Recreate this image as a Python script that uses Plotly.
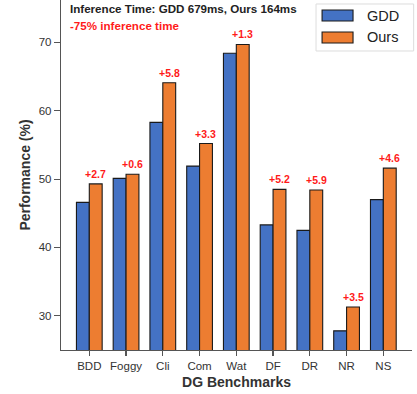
import plotly.graph_objects as go

categories = ["BDD", "Foggy", "Cli", "Com", "Wat", "DF", "DR", "NR", "NS"]
gdd = [46.6, 50.1, 58.3, 51.9, 68.4, 43.3, 42.5, 27.8, 47.0]
ours = [49.3, 50.7, 64.1, 55.2, 69.7, 48.5, 48.4, 31.3, 51.6]
deltas = ["+2.7", "+0.6", "+5.8", "+3.3", "+1.3", "+5.2", "+5.9", "+3.5", "+4.6"]
yticks = [30, 40, 50, 60, 70]
series_names = ["GDD", "Ours"]
colors = ["#4472C4", "#ED7D31"]

FONT = "Liberation Sans, Arial, sans-serif"
W = 0.35
idx = list(range(len(categories)))

fig = go.Figure()
fig.add_trace(go.Bar(x=[i - W / 2 for i in idx], y=gdd, width=W, name=series_names[0],
                     marker=dict(color=colors[0], line=dict(color="#1a1a1a", width=1.1)),
                     showlegend=False))
fig.add_trace(go.Bar(x=[i + W / 2 for i in idx], y=ours, width=W, name=series_names[1],
                     marker=dict(color=colors[1], line=dict(color="#1a1a1a", width=1.1)),
                     showlegend=False))

annotations = []
for i, (v, d) in enumerate(zip(ours, deltas)):
    annotations.append(dict(x=i + W / 2, y=v, text=f"<b>{d}</b>", showarrow=False,
                            yanchor="bottom", yshift=2,
                            font=dict(family=FONT, size=10.5, color="#ff1a1a")))

annotations.append(dict(xref="paper", yref="paper", x=0.0199, y=0.976, xanchor="left", yanchor="middle",
                        text="<b>Inference Time: GDD 679ms, Ours 164ms</b>", showarrow=False,
                        font=dict(family=FONT, size=11.6, color="#222222")))
annotations.append(dict(xref="paper", yref="paper", x=0.0199, y=0.9266, xanchor="left", yanchor="middle",
                        text="<b>-75% inference time</b>", showarrow=False,
                        font=dict(family=FONT, size=11.6, color="#ff1a1a")))

# legend drawn as shapes
shapes = [dict(type="rect", xref="paper", yref="paper", x0=0.7266, x1=1.0047, y0=0.8543, y1=0.9886,
               line=dict(color="#dddddd", width=1), fillcolor="rgba(255,255,255,0.85)", layer="above")]
leg_y = [(0.94, 0.9714, 0.9557), (0.877, 0.9086, 0.8929)]
for (y0, y1, yc), name, col in zip(leg_y, series_names, colors):
    shapes.append(dict(type="rect", xref="paper", yref="paper", x0=0.7438, x1=0.832, y0=y0, y1=y1,
                       line=dict(color="#1a1a1a", width=1.1), fillcolor=col, layer="above"))
    annotations.append(dict(xref="paper", yref="paper", x=0.8654, y=yc, xanchor="left", yanchor="middle",
                            text=name, showarrow=False, font=dict(family=FONT, size=14.5, color="#222222")))

fig.update_layout(
    width=417, height=394,
    margin=dict(l=61, r=5, t=0, b=44),
    plot_bgcolor="white", paper_bgcolor="white",
    barmode="overlay", bargap=0,
    font=dict(family=FONT, color="#333333"),
    annotations=annotations, shapes=shapes,
)
fig.update_xaxes(range=[-0.77, 8.78], tickvals=idx, ticktext=categories,
                 showline=True, linecolor="#555555", linewidth=1.2,
                 ticks="outside", ticklen=5, tickcolor="#555555", tickwidth=1.2,
                 showgrid=False, zeroline=False, tickfont=dict(size=11.5, color="#333333"),
                 title=dict(text="<b>DG Benchmarks</b>", font=dict(size=14, color="#333333"), standoff=6))
fig.update_yaxes(range=[25, 76.2], tickvals=yticks,
                 showline=True, linecolor="#555555", linewidth=1.2,
                 ticks="outside", ticklen=6, tickcolor="#555555", tickwidth=1.2,
                 showgrid=False, zeroline=False, tickfont=dict(size=11.5, color="#333333"),
                 title=dict(text="<b>Performance (%)</b>", font=dict(size=14, color="#333333"), standoff=4))

fig.write_html("out.html", config={"displayModeBar": False, "staticPlot": True},
               post_script="document.body.style.margin='0px';document.body.style.overflow='hidden';")
